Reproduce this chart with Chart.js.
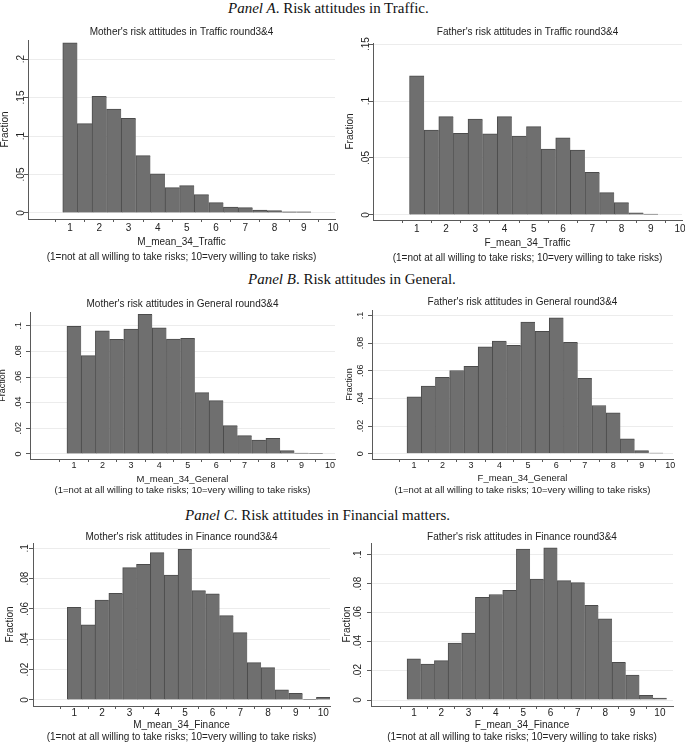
<!DOCTYPE html>
<html>
<head>
<meta charset="utf-8">
<script src="https://cdn.jsdelivr.net/npm/chart.js@4.4.0/dist/chart.umd.min.js"></script>
<style>
body{margin:0;background:#fff;width:685px;height:743px;overflow:hidden;position:relative;}
.panel{position:absolute;font-family:"Liberation Serif","Times New Roman",serif;font-size:15px;line-height:16px;color:#111;white-space:nowrap;}
.caja{position:absolute;}
</style>
</head>
<body>
<div class="panel" style="left:228px;top:0px"><i>Panel A</i>. Risk attitudes in Traffic.</div>
<div class="panel" style="left:248px;top:271px"><i>Panel B</i>. Risk attitudes in General.</div>
<div class="panel" style="left:185px;top:507px"><i>Panel C</i>. Risk attitudes in Financial matters.</div>

<div class="caja" id="k1"><canvas id="g1"></canvas></div>
<div class="caja" id="k2"><canvas id="g2"></canvas></div>
<div class="caja" id="k3"><canvas id="g3"></canvas></div>
<div class="caja" id="k4"><canvas id="g4"></canvas></div>
<div class="caja" id="k5"><canvas id="g5"></canvas></div>
<div class="caja" id="k6"><canvas id="g6"></canvas></div>

<script>
//------------------ Datos (fraccion por intervalo de 0.5) ------------------
var binsTraffic = [1, 1.5, 2, 2.5, 3, 3.5, 4, 4.5, 5, 5.5, 6, 6.5, 7, 7.5, 8, 8.5, 9];
var binsGeneral = [1, 1.5, 2, 2.5, 3, 3.5, 4, 4.5, 5, 5.5, 6, 6.5, 7, 7.5, 8, 8.5, 9, 9.5];
var binsFinance = [1, 1.5, 2, 2.5, 3, 3.5, 4, 4.5, 5, 5.5, 6, 6.5, 7, 7.5, 8, 8.5, 9, 9.5, 10];

var motherTraffic = [0.221, 0.116, 0.1515, 0.135, 0.123, 0.0745, 0.051, 0.033, 0.0355, 0.0238, 0.0134, 0.0078, 0.0069, 0.0039, 0.003, 0.0015, 0.0015];
var fatherTraffic = [0.122, 0.0746, 0.0863, 0.0716, 0.0842, 0.0713, 0.0863, 0.0693, 0.0775, 0.0579, 0.0678, 0.057, 0.0374, 0.0196, 0.0108, 0.002, 0.0009];
var motherGeneral = [0.0995, 0.0767, 0.0961, 0.0893, 0.0974, 0.1088, 0.0984, 0.0896, 0.0901, 0.0478, 0.0416, 0.0221, 0.0143, 0.0109, 0.0122, 0.0026, 0.0008, 0.0005];
var fatherGeneral = [0.0412, 0.0489, 0.0552, 0.0602, 0.0631, 0.0773, 0.0814, 0.0783, 0.0952, 0.0884, 0.0983, 0.0805, 0.0545, 0.0349, 0.0296, 0.0108, 0.0022, 0.0005];
var motherFinance = [0.0611, 0.0495, 0.0659, 0.0703, 0.0873, 0.0895, 0.0971, 0.0824, 0.0993, 0.0721, 0.0699, 0.0556, 0.0444, 0.0246, 0.0213, 0.0066, 0.0044, 0.0004, 0.0018];
var fatherFinance = [0.0283, 0.0248, 0.0271, 0.0391, 0.046, 0.0706, 0.0726, 0.0754, 0.1039, 0.0832, 0.1046, 0.0821, 0.0807, 0.0651, 0.0559, 0.026, 0.0172, 0.0032, 0.0014];

var xTicks = [1, 2, 3, 4, 5, 6, 7, 8, 9, 10];
var yTicksMotherTraffic = [0, 0.05, 0.1, 0.15, 0.2];
var yTicksFatherTraffic = [0, 0.05, 0.1, 0.15];
var yTicksFraction = [0, 0.02, 0.04, 0.06, 0.08, 0.1];

var nota = '(1=not at all willing to take risks; 10=very willing to take risks)';

//------------------ Estilo ------------------
var fuente = '"Liberation Sans", Arial, Helvetica, sans-serif';
var colorBarra = '#6f6f6f';
var colorBorde = '#4b4b4b';
var colorEje = '#5a5a5a';
var colorRejilla = '#ececec';
var colorTexto = '#222';

Chart.defaults.font.family = fuente;
Chart.defaults.color = colorTexto;

function etiqueta(v)
{
    if (v === 0) return '0';
    return String(v).replace(/^0/, '');
}

function anchoMax(vals, size)
{
    var ctx = document.createElement('canvas').getContext('2d');
    ctx.font = size + 'px ' + fuente;
    var w = 0;
    for (var i = 0; i < vals.length; i++) {
        w = Math.max(w, ctx.measureText(etiqueta(vals[i])).width);
    }
    return w;
}

//------------------ Dibujar un histograma ------------------
function dibujar(n, bins, valores, yTicks, titulo, xTitulo, p)
{
    var caja = document.getElementById('k' + n);
    caja.style.left = p.left + 'px';
    caja.style.top = p.top + 'px';
    caja.style.width = p.width + 'px';
    caja.style.height = (p.bottom - p.top) + 'px';

    var yTl = 4, xTl = 3;
    // la etiqueta girada queda unos 3px mas a la izquierda de lo calculado
    var yPad = (p.plotLeft - p.yLabelX) - yTl - anchoMax(yTicks, p.fs) / 2 - 3;
    var xPad = (p.xTickY - p.plotBottom) - xTl - p.fs * 1.2 / 2;

    var puntos = [];
    for (var i = 0; i < bins.length; i++) puntos.push({x: bins[i], y: valores[i]});

    var config = {
        type: 'bar',
        data: {
            datasets: [{
                data: puntos,
                backgroundColor: colorBarra,
                borderColor: colorBorde,
                borderWidth: {left: 1, top: 1, right: 0, bottom: 0},
                borderSkipped: false,
                barPercentage: 1,
                categoryPercentage: 1
            }]
        },
        options: {
            responsive: true,
            maintainAspectRatio: false,
            animation: false,
            events: [],
            layout: {padding: {left: 0, top: 0, bottom: 0, right: p.left + p.width - p.plotRight}},
            plugins: {
                legend: {display: false},
                tooltip: {enabled: false},
                title: {
                    display: true,
                    text: titulo,
                    fullSize: false,
                    color: colorTexto,
                    font: {size: 10, weight: 'normal', lineHeight: 1.2},
                    padding: {top: p.titleY - p.top - 6, bottom: p.plotTop - p.titleY - 6}
                }
            },
            scales: {
                x: {
                    type: 'linear',
                    min: p.xMin,
                    max: p.xMax,
                    offset: false,
                    afterBuildTicks: function (s) { s.ticks = xTicks.map(function (v) { return {value: v}; }); },
                    afterFit: function (s) {
                        s.height = p.bottom - p.plotBottom;
                        s.paddingLeft = 0; s.paddingRight = 0;
                    },
                    grid: {drawOnChartArea: false, drawTicks: true, tickLength: xTl, tickColor: colorEje},
                    border: {display: true, color: colorEje, width: 1},
                    ticks: {autoSkip: false, maxRotation: 0, padding: xPad, font: {size: p.fs}, color: colorTexto},
                    title: {
                        display: true,
                        text: [xTitulo, nota],
                        color: colorTexto,
                        font: {size: p.xfs, lineHeight: p.xLh + 'px'},
                        padding: {top: 0, bottom: p.bottom - p.xLine2Y - p.xLh / 2}
                    }
                },
                y: {
                    type: 'linear',
                    min: p.yMin,
                    max: p.yMax,
                    afterBuildTicks: function (s) { s.ticks = yTicks.map(function (v) { return {value: v}; }); },
                    afterFit: function (s) {
                        s.width = p.plotLeft - p.left;
                        s.paddingTop = 0; s.paddingBottom = 0;
                    },
                    grid: {color: colorRejilla, lineWidth: 1, drawTicks: true, tickLength: yTl, tickColor: colorEje},
                    border: {display: true, color: colorEje, width: 1},
                    ticks: {
                        minRotation: 90, maxRotation: 90, crossAlign: 'center',
                        padding: yPad, font: {size: p.fs}, color: colorTexto,
                        callback: function (v) { return etiqueta(v); }
                    },
                    title: {
                        display: true,
                        text: 'Fraction',
                        color: colorTexto,
                        font: {size: p.fs, lineHeight: 1.2},
                        padding: {top: p.yTitleX - p.left - p.fs * 0.6, bottom: 0}
                    }
                }
            }
        }
    };
    return new Chart(document.getElementById('g' + n), config);
}

//------------------ Posiciones de cada grafica ------------------
dibujar(1, binsTraffic, motherTraffic, yTicksMotherTraffic,
    "Mother's risk attitudes in Traffic round3&4", 'M_mean_34_Traffic',
    {left: 0, width: 340, top: 24, bottom: 265, titleY: 32, plotLeft: 28, plotTop: 40, plotRight: 335, plotBottom: 219,
     yLabelX: 18, yTitleX: 5, xTickY: 228, xLine2Y: 257, xLh: 15, fs: 10, xfs: 10,
     xMin: -0.44, xMax: 10.07, yMin: -0.0078, yMax: 0.2247});

dibujar(2, binsTraffic, fatherTraffic, yTicksFatherTraffic,
    "Father's risk attitudes in Traffic round3&4", 'F_mean_34_Traffic',
    {left: 340, width: 345, top: 24, bottom: 267, titleY: 32, plotLeft: 373, plotTop: 43, plotRight: 682, plotBottom: 220,
     yLabelX: 363, yTitleX: 350, xTickY: 229, xLine2Y: 258, xLh: 15, fs: 10, xfs: 10,
     xMin: -0.5, xMax: 10.07, yMin: -0.0044, yMax: 0.1509});

dibujar(3, binsGeneral, motherGeneral, yTicksFraction,
    "Mother's risk attitudes in General round3&4", 'M_mean_34_General',
    {left: 0, width: 340, top: 297, bottom: 497, titleY: 304, plotLeft: 30, plotTop: 312, plotRight: 335, plotBottom: 459,
     yLabelX: 16, yTitleX: 3, xTickY: 466, xLine2Y: 490, xLh: 11, fs: 9, xfs: 9.5,
     xMin: -0.55, xMax: 10.18, yMin: -0.0039, yMax: 0.1107});

dibujar(4, binsGeneral, fatherGeneral, yTicksFraction,
    "Father's risk attitudes in General round3&4", 'F_mean_34_General',
    {left: 340, width: 345, top: 295, bottom: 497, titleY: 302, plotLeft: 372, plotTop: 310, plotRight: 673, plotBottom: 459,
     yLabelX: 358, yTitleX: 350, xTickY: 466, xLine2Y: 490, xLh: 12, fs: 9, xfs: 9.5,
     xMin: -0.48, xMax: 10.1, yMin: -0.0038, yMax: 0.1039});

dibujar(5, binsFinance, motherFinance, yTicksFraction,
    "Mother's risk attitudes in Finance round3&4", 'M_mean_34_Finance',
    {left: 0, width: 340, top: 530, bottom: 749, titleY: 537, plotLeft: 33, plotTop: 543, plotRight: 330, plotBottom: 706,
     yLabelX: 22, yTitleX: 10, xTickY: 713, xLine2Y: 737.5, xLh: 12, fs: 10, xfs: 10,
     xMin: -0.49, xMax: 10.24, yMin: -0.004, yMax: 0.1035});

dibujar(6, binsFinance, fatherFinance, yTicksFraction,
    "Father's risk attitudes in Finance round3&4", 'F_mean_34_Finance',
    {left: 340, width: 345, top: 530, bottom: 749, titleY: 537, plotLeft: 371, plotTop: 543, plotRight: 673, plotBottom: 706,
     yLabelX: 355, yTitleX: 347, xTickY: 713, xLine2Y: 737.5, xLh: 12, fs: 10, xfs: 10,
     xMin: -0.57, xMax: 10.48, yMin: -0.0041, yMax: 0.108});
</script>
</body>
</html>
